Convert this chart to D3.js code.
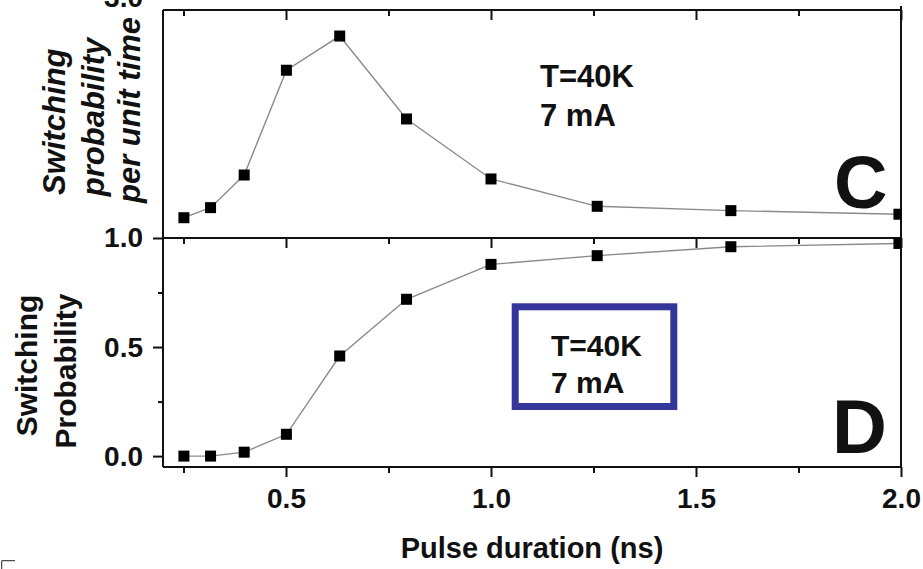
<!DOCTYPE html>
<html>
<head>
<meta charset="utf-8">
<script src="https://cdn.jsdelivr.net/npm/d3@7/dist/d3.min.js"></script>
<style>
  html, body { margin: 0; padding: 0; background: #fff; }
  svg { display: block; }
  text { font-family: "Liberation Sans", Arial, sans-serif; font-weight: bold; fill: #111; }
</style>
</head>
<body>
<svg id="chart" width="923" height="569"></svg>
<script>
// ---- data ----
const pulseDuration = [0.251, 0.316, 0.398, 0.501, 0.631, 0.794, 1.0, 1.259, 1.585, 1.995];
const rateValues    = [1.169, 1.253, 1.525, 2.398, 2.683, 1.992, 1.492, 1.264, 1.228, 1.198];
const probValues    = [0.0, 0.0, 0.018, 0.10, 0.459, 0.719, 0.879, 0.919, 0.960, 0.975];
const xMajorTicks = [0.5, 1.0, 1.5, 2.0];
const xMinorTicks = [0.25, 0.75, 1.25, 1.75];
const probMajorTicks = [0.0, 0.5, 1.0];
const probMinorTicks = [0.25, 0.75];
const rateTicks = [3.0];

const svg = d3.select("#chart");
const L = 163, R = 901, T = 10, MID = 238, B = 467;

const x = d3.scaleLinear().domain([0.2, 2.0]).range([L, R]);
const yTop = d3.scaleLinear().domain([1.0, 3.0]).range([MID, -2]);
const yBot = d3.scaleLinear().domain([-0.05, 1.0]).range([B, MID]);

const fmt = d3.format(".1f");

svg.append("defs").append("clipPath").attr("id", "clipTop")
  .append("rect").attr("x", L).attr("y", T).attr("width", R - L).attr("height", MID - T);
svg.select("defs").append("clipPath").attr("id", "clipBot")
  .append("rect").attr("x", L).attr("y", MID).attr("width", R - L).attr("height", B - MID);

function styleAxis(g) {
  g.select(".domain").remove();
  g.selectAll(".tick line").attr("stroke", "#111").attr("stroke-width", 2);
  g.selectAll(".tick text").attr("font-size", 28).attr("fill", "#111")
    .style("font-family", '"Liberation Sans", Arial, sans-serif').style("font-weight", "bold");
}

// x axis at bottom (outward ticks)
svg.append("g").attr("transform", `translate(0,${B})`)
  .call(d3.axisBottom(x).tickValues(xMajorTicks).tickSize(10).tickPadding(11).tickFormat(fmt))
  .call(styleAxis);
svg.append("g").attr("transform", `translate(0,${B})`)
  .call(d3.axisBottom(x).tickValues(xMinorTicks).tickSize(6).tickFormat(""))
  .call(styleAxis);

// inward ticks on top frame and divider
[T, MID].forEach(yy => {
  svg.append("g").attr("transform", `translate(0,${yy})`)
    .call(d3.axisTop(x).tickValues(xMajorTicks).tickSize(-10).tickFormat(""))
    .call(styleAxis);
  svg.append("g").attr("transform", `translate(0,${yy})`)
    .call(d3.axisTop(x).tickValues(xMinorTicks).tickSize(-6).tickFormat(""))
    .call(styleAxis);
});

// bottom panel y axis
svg.append("g").attr("transform", `translate(${L},0)`)
  .call(d3.axisLeft(yBot).tickValues(probMajorTicks).tickSize(10).tickPadding(10).tickFormat(fmt))
  .call(styleAxis);
svg.append("g").attr("transform", `translate(${L},0)`)
  .call(d3.axisLeft(yBot).tickValues(probMinorTicks).tickSize(5).tickFormat(""))
  .call(styleAxis);

// top panel y axis (label partially cut at top)
svg.append("g").attr("transform", `translate(${L},0)`)
  .call(d3.axisLeft(yTop).tickValues(rateTicks).tickSize(0).tickPadding(20).tickFormat(fmt))
  .call(styleAxis);

// frame lines
const frame = svg.append("g").attr("stroke", "#111").attr("stroke-width", 2).attr("fill", "none");
frame.append("line").attr("x1", L).attr("x2", R).attr("y1", T).attr("y2", T);
frame.append("line").attr("x1", L).attr("x2", R).attr("y1", MID).attr("y2", MID);
frame.append("line").attr("x1", L).attr("x2", R).attr("y1", B).attr("y2", B);
frame.append("line").attr("x1", L).attr("x2", L).attr("y1", T).attr("y2", B);
frame.append("line").attr("x1", R).attr("x2", R).attr("y1", 6).attr("y2", B);

// series
function drawSeries(vals, yScale, clipId) {
  const g = svg.append("g").attr("clip-path", `url(#${clipId})`);
  const pts = pulseDuration.map((d, i) => [d, vals[i]]);
  g.append("path").datum(pts)
    .attr("fill", "none").attr("stroke", "#8a8a8a").attr("stroke-width", 1.4)
    .attr("d", d3.line().x(d => x(d[0])).y(d => yScale(d[1])));
  const s = 11;
  g.selectAll("rect.pt").data(pts).enter().append("rect")
    .attr("x", d => x(d[0]) - s / 2).attr("y", d => yScale(d[1]) - s / 2)
    .attr("width", s).attr("height", s).attr("fill", "#000");
}
drawSeries(rateValues, yTop, "clipTop");
drawSeries(probValues, yBot, "clipBot");

// annotations top panel
svg.append("text").attr("x", 540).attr("y", 87).attr("font-size", 31).text("T=40K");
svg.append("text").attr("x", 540).attr("y", 126).attr("font-size", 31).text("7 mA");
svg.append("text").attr("x", 834).attr("y", 208).attr("font-size", 74).text("C");

// annotations bottom panel
svg.append("rect").attr("x", 515.2).attr("y", 306.8).attr("width", 158.6).attr("height", 99.7)
  .attr("fill", "none").attr("stroke", "#34369b").attr("stroke-width", 7);
svg.append("text").attr("x", 551).attr("y", 356).attr("font-size", 30).text("T=40K");
svg.append("text").attr("x", 551).attr("y", 392.5).attr("font-size", 30).text("7 mA");
svg.append("text").attr("x", 832).attr("y", 453).attr("font-size", 76).text("D");

// axis titles
svg.append("text").attr("x", (L + R) / 2).attr("y", 558).attr("text-anchor", "middle")
  .attr("font-size", 29).text("Pulse duration (ns)");

function vlabel(txt, bx, cy, size, italic) {
  svg.append("text").attr("transform", `translate(${bx},${cy}) rotate(-90)`)
    .attr("text-anchor", "middle").attr("font-size", size)
    .style("font-style", italic ? "italic" : "normal").text(txt);
}
vlabel("Switching", 37, 365.5, 30, false);
vlabel("Probability", 75.5, 371, 30, false);
vlabel("Switching", 65, 121.7, 31, true);
vlabel("probability", 103.5, 117, 31, true);
vlabel("per unit time", 140, 110, 31, true);

// crop mark bottom-left
svg.append("path").attr("d", "M1.7,569 V560.7 H15").attr("fill", "none")
  .attr("stroke", "#222").attr("stroke-width", 1);
</script>
</body>
</html>
